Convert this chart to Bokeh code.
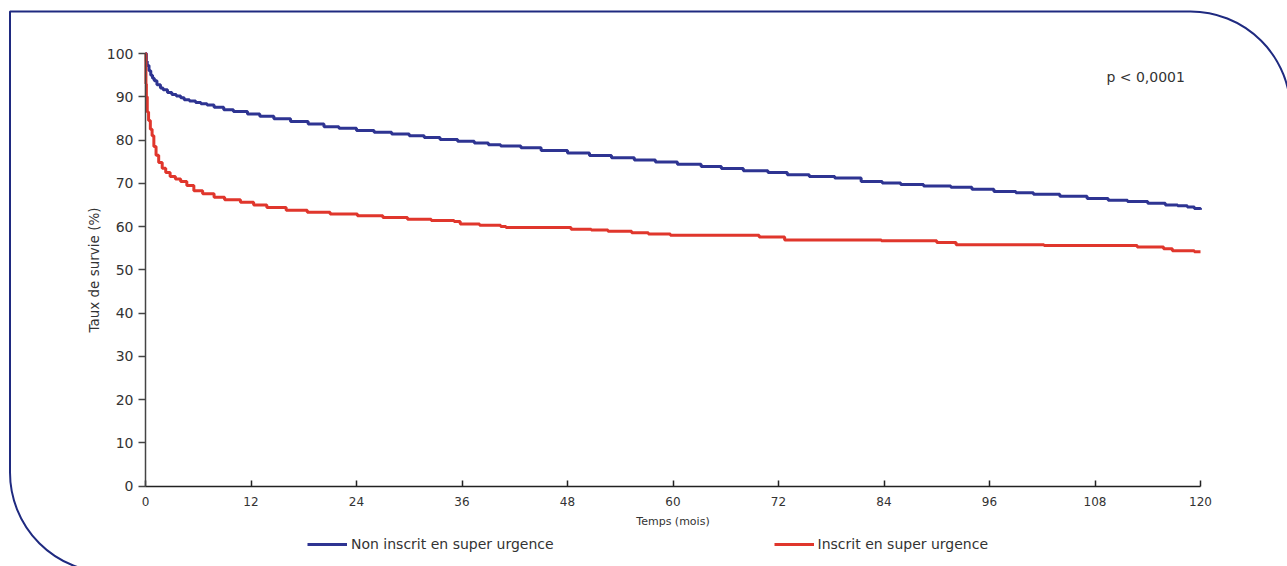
from bokeh.plotting import figure
from bokeh.models import BoxAnnotation, Label, Legend, LegendItem, FixedTicker
from bokeh.embed import file_html
from bokeh.resources import INLINE

# Data
t_non = [0, 0.1, 0.2, 0.4, 0.6, 0.8, 1.0, 1.3, 1.7, 2.0, 2.5, 3.0, 3.5, 4.0, 4.4, 5.0, 5.7, 6.3, 7.0, 7.8,
         8.9, 10.0, 11.6, 13.0, 14.6, 16.5, 18.5, 20.3, 22.0, 24.0, 26.0, 28.0, 30.0, 31.7, 33.5, 35.5, 37.4,
         39.0, 40.4, 42.7, 45.0, 48.0, 50.5, 53.0, 55.6, 58.0, 60.5, 63.2, 65.5, 68.0, 70.8, 73.0, 75.5, 78.4,
         81.4, 83.8, 85.9, 88.5, 91.6, 94.0, 96.5, 99.0, 101.0, 104.0, 107.1, 109.5, 111.7, 114.0, 116.0,
         117.4, 118.5, 119.3, 120.0]
s_non = [100, 98.2, 97.2, 96.0, 95.0, 94.3, 93.7, 92.8, 92.0, 91.6, 91.0, 90.5, 90.2, 89.8, 89.3, 89.0, 88.7,
         88.4, 88.1, 87.6, 87.0, 86.6, 86.0, 85.5, 84.9, 84.3, 83.7, 83.1, 82.7, 82.2, 81.8, 81.4, 81.0, 80.6,
         80.1, 79.7, 79.3, 78.9, 78.6, 78.2, 77.6, 77.0, 76.4, 75.9, 75.4, 74.9, 74.4, 73.9, 73.4, 72.9, 72.5,
         72.0, 71.6, 71.2, 70.4, 70.1, 69.7, 69.4, 69.1, 68.6, 68.1, 67.8, 67.5, 67.0, 66.5, 66.1, 65.8, 65.4,
         65.0, 64.8, 64.5, 64.2, 63.9]

t_su = [0, 0.05, 0.1, 0.2, 0.35, 0.55, 0.75, 0.95, 1.2, 1.5, 1.9, 2.3, 2.8, 3.4, 4.0, 4.7, 5.5, 6.5, 7.8, 9.0,
        10.8, 12.3, 13.8, 16.0, 18.4, 21.0, 24.1, 27.0, 29.8, 32.5, 35.1, 35.8, 38.0, 40.4, 41.0, 48.4, 50.7,
        52.6, 55.3, 57.2, 59.7, 69.8, 72.7, 83.7, 90.0, 92.2, 102.2, 112.8, 115.8, 116.8, 119.3, 120.0]
s_su = [100, 93, 90, 86.5, 84.5, 82.5, 81, 78.5, 76.5, 74.8, 73.5, 72.5, 71.6, 71.0, 70.4, 69.5, 68.3, 67.6,
        66.8, 66.2, 65.6, 65.0, 64.4, 63.8, 63.3, 62.9, 62.5, 62.1, 61.7, 61.4, 61.2, 60.6, 60.3, 60.0, 59.8,
        59.4, 59.2, 58.9, 58.6, 58.3, 58.0, 57.6, 56.9, 56.7, 56.3, 55.8, 55.6, 55.3, 54.9, 54.4, 54.2, 54.2]

x_ticks = [0, 12, 24, 36, 48, 60, 72, 84, 96, 108, 120]
y_ticks = [0, 10, 20, 30, 40, 50, 60, 70, 80, 90, 100]
label_non = "Non inscrit en super urgence"
label_su = "Inscrit en super urgence"
p_text = "p < 0,0001"

BLUE = "#2e3492"
RED = "#e0362c"
NAVY = "#1f2a80"
TXT = "#333333"
FONT = "DejaVu Sans"

W, H = 1287, 566
# pixel placement of the data area (axes drawn at fixed locations inside a full-canvas frame)
PX0, PX1 = 145.0, 1200.0      # x = 0 and x = 120
PY100, PY0 = 53.0, 485.7      # y = 100 and y = 0
kx = (PX1 - PX0) / 120.0
ky = (PY0 - PY100) / 100.0
x_start, x_end = -PX0 / kx, 120.0 + (W - PX1) / kx
y_start, y_end = -(H - PY0) / ky, 100.0 + PY100 / ky

p = figure(width=W, height=H, output_backend="svg", toolbar_location=None,
           x_range=(x_start, x_end), y_range=(y_start, y_end),
           min_border=0, min_border_left=0, min_border_right=0, min_border_top=0, min_border_bottom=0)
p.outline_line_color = None
p.xgrid.visible = False
p.ygrid.visible = False
p.background_fill_color = "white"
p.border_fill_color = "white"

# rounded frame
frame = BoxAnnotation(left=9.5, right=1290, top=11, bottom=572,
                      left_units="canvas", right_units="canvas", top_units="canvas", bottom_units="canvas",
                      fill_alpha=0, fill_color=None, line_color=NAVY, line_alpha=1.0, line_width=2,
                      border_radius=(0, 100, 0, 100), level="underlay")
p.add_layout(frame)

r_non = p.step(t_non, s_non, mode="after", line_color=BLUE, line_width=3)
r_su = p.step(t_su, s_su, mode="after", line_color=RED, line_width=3)

# axes
xa = p.xaxis[0]
xa.fixed_location = 0
xa.bounds = (0, 120)
xa.ticker = FixedTicker(ticks=x_ticks)
xa.minor_tick_line_color = None
xa.major_tick_in = 6
xa.major_tick_out = 0
xa.axis_line_color = "#222222"
xa.axis_line_width = 1.5
xa.major_tick_line_color = "#222222"
xa.major_tick_line_width = 1.5
xa.major_label_text_font = FONT
xa.major_label_text_font_size = "12px"
xa.major_label_text_color = TXT
xa.major_label_standoff = 11
xa.axis_label = "Temps (mois)"
xa.axis_label_text_font = FONT
xa.axis_label_text_font_size = "11px"
xa.axis_label_text_font_style = "normal"
xa.axis_label_text_color = TXT
xa.axis_label_standoff = 5

ya = p.yaxis[0]
ya.fixed_location = 0
ya.bounds = (0, 100)
ya.ticker = FixedTicker(ticks=y_ticks)
ya.minor_tick_line_color = None
ya.major_tick_in = 0
ya.major_tick_out = 7
ya.axis_line_color = "#444444"
ya.axis_line_width = 1.5
ya.major_tick_line_color = "#444444"
ya.major_tick_line_width = 1.5
ya.major_label_text_font = FONT
ya.major_label_text_font_size = "14px"
ya.major_label_text_color = TXT
ya.major_label_standoff = 5
ya.axis_label = "Taux de survie (%)"
ya.axis_label_text_font = FONT
ya.axis_label_text_font_size = "13.5px"
ya.axis_label_text_font_style = "normal"
ya.axis_label_text_color = TXT
ya.axis_label_standoff = 2

# p-value label
p.add_layout(Label(x=109.3, y=94.6, text=p_text, text_font=FONT, text_font_size="14px",
                   text_color=TXT, text_baseline="middle", text_align="left"))

# legend
legend = Legend(items=[LegendItem(label=label_non, renderers=[r_non]),
                       LegendItem(label=label_su, renderers=[r_su])],
                orientation="horizontal", location=(307, 14), spacing=220,
                glyph_width=40, glyph_height=16, label_standoff=4, padding=0, margin=0,
                border_line_color=None, background_fill_alpha=0,
                label_text_font=FONT, label_text_font_size="14px", label_text_color=TXT)
p.add_layout(legend, "center")

open("out.html", "w").write(file_html(p, INLINE))
